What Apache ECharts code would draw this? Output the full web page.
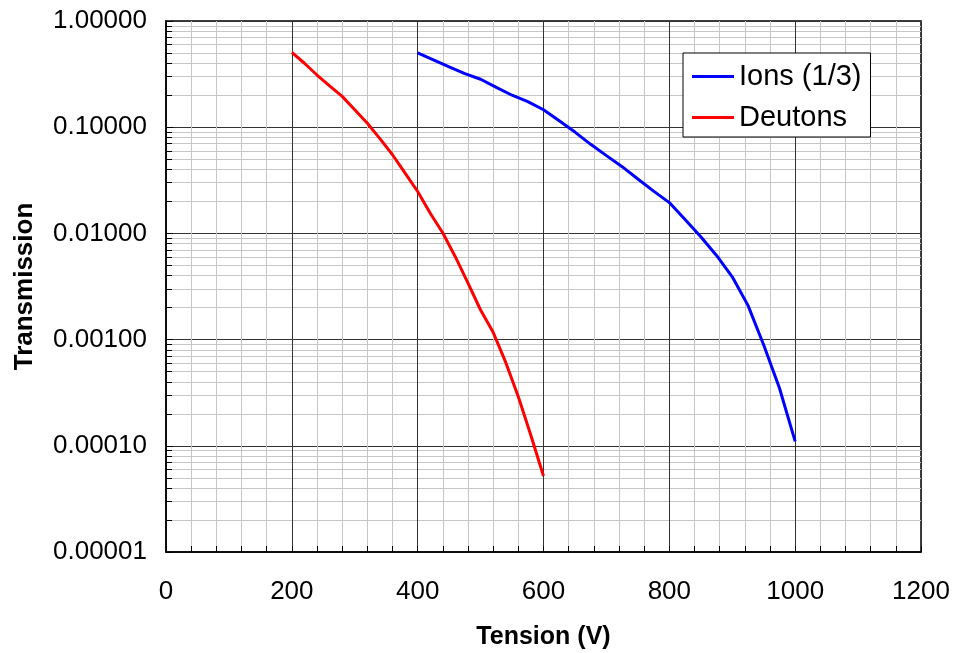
<!DOCTYPE html>
<html>
<head>
<meta charset="utf-8">
<script src="https://cdn.jsdelivr.net/npm/echarts@6/dist/echarts.min.js"></script>
<style>
  html, body { margin: 0; padding: 0; background: #fff; }
  #chart { width: 955px; height: 653px; }
</style>
</head>
<body>
<div id="chart"></div>
<script>
// Transmission vs. tension, log scale
const ionsTension = [400, 425, 450, 475, 500, 525, 550, 575, 600, 625, 650, 675, 700,
  725, 750, 775, 800, 825, 850, 875, 900, 925, 950, 975, 1000];
const ionsTransmission = [0.50, 0.43, 0.37, 0.32, 0.283, 0.237, 0.20, 0.174, 0.146, 0.115,
  0.090, 0.069, 0.054, 0.0425, 0.0325, 0.025, 0.0195, 0.0135, 0.0093, 0.0062, 0.0039,
  0.0021, 0.00089, 0.00035, 0.000110];

const deutonsTension = [200, 220, 240, 260, 280, 300, 320, 340, 360, 380, 400, 420, 440,
  460, 480, 500, 520, 540, 560, 580, 600];
const deutonsTransmission = [0.506, 0.40, 0.31, 0.245, 0.195, 0.146, 0.109, 0.078, 0.055,
  0.037, 0.0248, 0.0155, 0.0101, 0.0060, 0.0034, 0.0019, 0.00117, 0.00061, 0.00029,
  0.000125, 0.000052];

const seriesNames = ['Ions (1/3)', 'Deutons'];
const seriesColors = ['#0000ff', '#ff0000'];

const xTicks = { min: 0, max: 1200, step: 200 };
const yTicks = { min: 0.00001, max: 1 };

function pairs(xs, ys) {
  return xs.map((x, i) => [x, ys[i]]);
}

const font = 'Arial, "Liberation Sans", sans-serif';
const chart = echarts.init(document.getElementById('chart'), null, { renderer: 'canvas' });

chart.setOption({
  animation: false,
  backgroundColor: '#ffffff',
  textStyle: { fontFamily: font, color: '#000' },
  grid: {
    left: 166, top: 21, right: 34, bottom: 101,
    containLabel: false,
    outerBoundsMode: 'none',
    show: true, borderColor: '#000', borderWidth: 1.5, backgroundColor: 'transparent'
  },
  legend: {
    orient: 'vertical',
    left: 683, top: 53,
    backgroundColor: '#fff',
    borderColor: '#000', borderWidth: 1,
    borderRadius: 0,
    padding: [9, 9, 5, 9],
    itemGap: 12,
    itemWidth: 42, itemHeight: 3,
    icon: 'rect',
    textStyle: { fontSize: 29, fontFamily: font, color: '#000' },
    data: seriesNames
  },
  xAxis: {
    type: 'value',
    min: xTicks.min, max: xTicks.max, interval: xTicks.step,
    name: 'Tension (V)',
    nameLocation: 'middle',
    nameGap: 73,
    nameTextStyle: { fontSize: 25, fontWeight: 'bold', fontFamily: font, color: '#000' },
    axisLine: { onZero: false, lineStyle: { color: '#000', width: 1.5 } },
    axisTick: { inside: true, length: 6, lineStyle: { color: '#000' } },
    minorTick: { show: true, splitNumber: 5, length: 6, lineStyle: { color: '#000' } },
    axisLabel: {
      fontSize: 26, margin: 27, color: '#000', fontFamily: font,
      formatter: v => String(v)
    },
    splitLine: { show: true, lineStyle: { color: '#333', width: 1 } },
    minorSplitLine: { show: true, lineStyle: { color: '#c6c6c6', width: 1 } }
  },
  yAxis: {
    type: 'log',
    logBase: 10,
    min: yTicks.min, max: yTicks.max,
    name: 'Transmission',
    nameLocation: 'middle',
    nameGap: 128,
    nameTextStyle: { fontSize: 26, fontWeight: 'bold', fontFamily: font, color: '#000' },
    axisLine: { lineStyle: { color: '#000', width: 1.5 } },
    axisTick: { inside: true, length: 7, lineStyle: { color: '#000' } },
    minorTick: { show: true, splitNumber: 9, length: 6, lineStyle: { color: '#000' } },
    axisLabel: {
      fontSize: 26, margin: 19, color: '#000', fontFamily: font,
      formatter: v => Number(v).toFixed(5)
    },
    splitLine: { show: true, lineStyle: { color: '#333', width: 1 } },
    minorSplitLine: { show: true, lineStyle: { color: '#c6c6c6', width: 1 } }
  },
  series: [
    {
      name: seriesNames[0],
      type: 'line',
      data: pairs(ionsTension, ionsTransmission),
      symbol: 'none',
      lineStyle: { color: seriesColors[0], width: 3 },
      itemStyle: { color: seriesColors[0] },
      z: 5
    },
    {
      name: seriesNames[1],
      type: 'line',
      data: pairs(deutonsTension, deutonsTransmission),
      symbol: 'none',
      lineStyle: { color: seriesColors[1], width: 3 },
      itemStyle: { color: seriesColors[1] },
      z: 5
    }
  ]
});
</script>
</body>
</html>
